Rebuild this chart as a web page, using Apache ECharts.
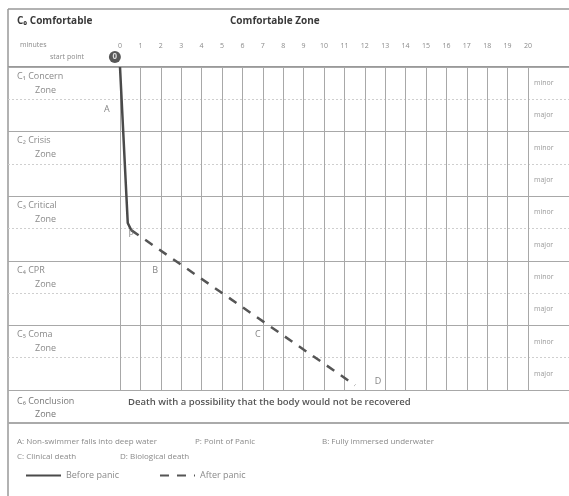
<!DOCTYPE html>
<html>
<head>
<meta charset="utf-8">
<script src="https://cdn.jsdelivr.net/npm/echarts@6/dist/echarts.min.js"></script>
<style>
  html, body { margin: 0; padding: 0; background: #fff; }
  #main { width: 569px; height: 496px; }
</style>
</head>
<body>
<div id="main"></div>
<script>
// minutes along the top, 0..20
var minuteTicks = [0, 1, 2, 3, 4, 5, 6, 7, 8, 9, 10, 11, 12, 13, 14, 15, 16, 17, 18, 19, 20];
// zone rows (each zone split in minor / major half)
var zoneNames = ['C\u2081 Concern', '', 'C\u2082 Crisis', '', 'C\u2083 Critical', '', 'C\u2084 CPR', '', 'C\u2085 Coma', ''];
var halfNames = ['minor', 'major', 'minor', 'major', 'minor', 'major', 'minor', 'major', 'minor', 'major'];
// drowning path: [minute, depth in half-rows]
var beforePanic = [[0, 0], [0.38, 4.83], [0.55, 5.05]];
var afterPanic = [[0.55, 5.05], [11.52, 9.85]];
// letter markers on the path
var pointNames = ['A', 'P', 'B', 'C', 'D'];
var pointPos = [[-0.64, 1.3], [0.55, 5.17], [1.72, 6.29], [6.76, 8.27], [12.65, 9.75]];
var startPoint = [[-0.25, -0.31]];

var FONT = '"Open Sans", "DejaVu Sans", sans-serif';
var GREY = '#8a8a8a';

var chart = echarts.init(document.getElementById('main'), null, { renderer: 'canvas' });

var markerData = pointNames.map(function (n, i) {
  return { name: n, value: pointPos[i] };
});

function txt(text, left, top, size, color, weight) {
  return {
    text: text, left: left, top: top, padding: 0,
    textStyle: { fontFamily: FONT, fontSize: size, color: color, fontWeight: weight || 'normal' }
  };
}

var option = {
  backgroundColor: '#ffffff',
  animation: false,
  title: [
    txt('C\u2080 Comfortable', 17, 16, 10, '#3a3a3a', 'bold'),
    txt('Comfortable Zone', 230, 16, 10, '#3a3a3a', 'bold'),
    txt('minutes', 20, 41, 7, GREY),
    txt('start point', 50, 53, 7, GREY),
    txt('C\u2086 Conclusion', 17, 397, 9, '#777'),
    txt('Zone', 35, 410, 9, '#777'),
    txt('Death with a possibility that the body would not be recovered', 128, 397, 9.5, '#555', 600),
    txt('A: Non-swimmer falls into deep water', 17, 438, 8, GREY),
    txt('P: Point of Panic', 195, 438, 8, GREY),
    txt('B: Fully immersed underwater', 322, 438, 8, GREY),
    txt('C: Clinical death', 17, 453, 8, GREY),
    txt('D: Biological death', 120, 453, 8, GREY)
  ],
  legend: {
    data: ['Before panic', 'After panic'],
    left: 25, top: 471, padding: 0,
    itemWidth: 35, itemHeight: 10, itemGap: 40,
    itemStyle: { opacity: 0 },
    textStyle: { fontFamily: FONT, fontSize: 9, color: GREY }
  },
  grid: [
    { left: 8, right: 0, top: 67, bottom: 106 },
    { left: 120, right: 41, top: 67, bottom: 106 }
  ],
  xAxis: [
    {
      gridIndex: 1, type: 'value', position: 'top', min: 0, max: 20, interval: 1,
      axisLine: { show: false }, axisTick: { show: false },
      axisLabel: {
        margin: 18, fontFamily: FONT, fontSize: 7, color: GREY,
        formatter: function (v) { return minuteTicks.indexOf(v) >= 0 ? String(v) : ''; }
      },
      splitLine: { show: true, lineStyle: { color: '#a8a8a8', width: 1 } }
    },
    { gridIndex: 0, type: 'value', min: 0, max: 1, show: false }
  ],
  yAxis: [
    { gridIndex: 1, type: 'value', inverse: true, min: 0, max: 10, show: false },
    {
      gridIndex: 1, type: 'category', inverse: true, position: 'left', data: zoneNames,
      axisLine: { show: false }, axisTick: { show: false }, splitLine: { show: false },
      axisLabel: {
        margin: 103, align: 'left', interval: 0,
        formatter: function (v) { return v ? '{a|' + v + '}\n{b|Zone}' : ''; },
        rich: {
          a: { fontFamily: FONT, fontSize: 9, color: '#8a8a8a', lineHeight: 14 },
          b: { fontFamily: FONT, fontSize: 9, color: '#8a8a8a', lineHeight: 14, padding: [0, 0, 0, 18] }
        }
      }
    },
    {
      gridIndex: 1, type: 'category', inverse: true, position: 'right', data: halfNames,
      axisLine: { show: false }, axisTick: { show: false }, splitLine: { show: false },
      axisLabel: { margin: 6, align: 'left', interval: 0, fontFamily: FONT, fontSize: 7, color: '#999' }
    },
    {
      gridIndex: 0, type: 'value', inverse: true, min: 0, max: 10, interval: 1,
      axisLine: { show: false }, axisTick: { show: false }, axisLabel: { show: false },
      splitLine: { show: true, lineStyle: { color: '#cfcfcf', type: [2, 2], width: 1 } }
    },
    {
      gridIndex: 0, type: 'value', inverse: true, min: 0, max: 10, interval: 2,
      axisLine: { show: false }, axisTick: { show: false }, axisLabel: { show: false },
      splitLine: { show: true, lineStyle: { color: '#a8a8a8', width: 1.2 } }
    }
  ],
  graphic: [
    { type: 'line', shape: { x1: 8, y1: 9, x2: 569, y2: 9 }, style: { stroke: '#999', lineWidth: 1.5 } },
    { type: 'line', shape: { x1: 8, y1: 9, x2: 8, y2: 496 }, style: { stroke: '#999', lineWidth: 1.5 } },
    { type: 'line', shape: { x1: 8, y1: 67, x2: 569, y2: 67 }, style: { stroke: '#999', lineWidth: 2 } },
    { type: 'line', shape: { x1: 8, y1: 423, x2: 569, y2: 423 }, style: { stroke: '#aaa', lineWidth: 2 } }
  ],
  series: [
    {
      name: 'Before panic', type: 'line', xAxisIndex: 0, yAxisIndex: 0,
      data: beforePanic, symbol: 'none', z: 5,
      lineStyle: { color: '#4a4a4a', width: 2.5 },
      itemStyle: { color: '#4a4a4a' }
    },
    {
      name: 'After panic', type: 'line', xAxisIndex: 0, yAxisIndex: 0,
      data: afterPanic, symbol: 'none', z: 5,
      lineStyle: { color: '#555', width: 2.5, type: [9, 8] },
      itemStyle: { color: '#555' }
    },
    {
      name: 'markers', type: 'scatter', xAxisIndex: 0, yAxisIndex: 0,
      data: markerData, symbolSize: 0, clip: false, z: 6,
      label: {
        show: true, position: 'inside', formatter: '{b}',
        fontFamily: FONT, fontSize: 9, color: '#666'
      }
    },
    {
      name: 'start', type: 'scatter', xAxisIndex: 0, yAxisIndex: 0,
      data: startPoint, symbol: 'circle', symbolSize: 12, clip: false, z: 6,
      itemStyle: { color: '#2e2e2e' },
      label: { show: true, position: 'inside', formatter: '0', fontFamily: FONT, fontSize: 8, fontWeight: 'bold', color: '#fff' }
    }
  ]
};

chart.setOption(option);
</script>
</body>
</html>
